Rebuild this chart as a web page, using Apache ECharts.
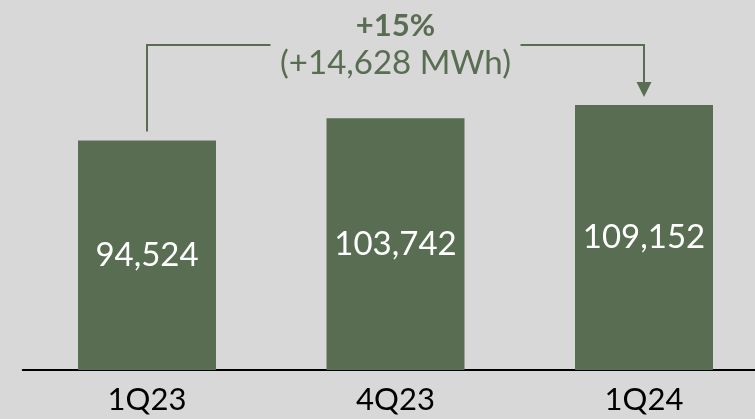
<!DOCTYPE html>
<html>
<head>
<meta charset="utf-8">
<script src="https://cdn.jsdelivr.net/npm/echarts@6/dist/echarts.min.js"></script>
<style>
html,body{margin:0;padding:0;background:#d8d8d8;overflow:hidden;width:755px;height:419px;}
#chart{width:769px;height:419px;}
</style>
</head>
<body>
<div id="chart"></div>
<script>
const categories = ['1Q23', '4Q23', '1Q24'];
const values = [94524, 103742, 109152];
const changePct = '+15%';
const changeAbs = '(+14,628 MWh)';

const GREEN = '#586d52';
const FONT = 'Lato, "Open Sans", sans-serif';

const chart = echarts.init(document.getElementById('chart'));
chart.setOption({
  backgroundColor: '#d8d8d8',
  animation: false,
  grid: { left: 22.75, right: 0.75, top: 30.2, bottom: 49 },
  xAxis: {
    type: 'category',
    data: categories,
    axisLine: { lineStyle: { color: '#000', width: 2 } },
    axisTick: { show: false },
    axisLabel: { color: '#000', fontSize: 31, fontFamily: FONT, margin: 14 }
  },
  yAxis: { type: 'value', min: 0, max: 140000, show: false, splitLine: { show: false } },
  series: [{
    type: 'bar',
    data: values,
    barWidth: 138,
    itemStyle: { color: GREEN },
    label: {
      show: true,
      position: 'inside',
      color: '#fff',
      fontSize: 33,
      fontFamily: FONT,
      formatter: p => p.value.toLocaleString('en-US')
    }
  }]
});

function drawBracket() {
  const p0 = chart.convertToPixel({ seriesIndex: 0 }, [0, values[0]]);
  const p1 = chart.convertToPixel({ seriesIndex: 0 }, [1, values[1]]);
  const p2 = chart.convertToPixel({ seriesIndex: 0 }, [2, values[2]]);
  const yLine = 45;
  const gap = 125;
  const lineStyle = { stroke: GREEN, lineWidth: 2, fill: null };
  chart.setOption({
    graphic: [
      { type: 'polyline', shape: { points: [[p0[0], p0[1] - 9], [p0[0], yLine], [p1[0] - gap, yLine]] }, style: lineStyle },
      { type: 'polyline', shape: { points: [[p1[0] + gap, yLine], [p2[0], yLine], [p2[0], p2[1] - 20]] }, style: lineStyle },
      { type: 'polygon', shape: { points: [[p2[0] - 7.5, p2[1] - 23], [p2[0] + 7.5, p2[1] - 23], [p2[0], p2[1] - 8]] }, style: { fill: GREEN } },
      { type: 'text', x: p1[0], y: 26, style: { text: changePct, fill: GREEN, font: 'bold 31px ' + FONT, align: 'center', verticalAlign: 'middle' } },
      { type: 'text', x: p1[0], y: 63, style: { text: changeAbs, fill: GREEN, font: '33px ' + FONT, align: 'center', verticalAlign: 'middle' } }
    ]
  });
}
drawBracket();
</script>
</body>
</html>
